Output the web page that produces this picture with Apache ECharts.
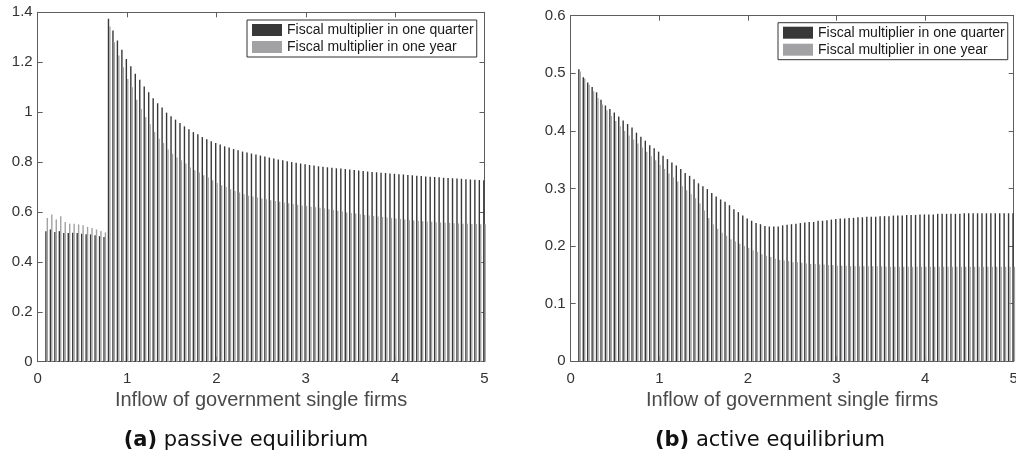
<!DOCTYPE html>
<html>
<head>
<meta charset="utf-8">
<script src="https://cdn.jsdelivr.net/npm/echarts@6/dist/echarts.min.js"></script>
<style>
  html, body { margin: 0; padding: 0; background: #fff; }
  #chart { width: 1016px; height: 456px; }
</style>
</head>
<body>
<div id="chart"></div>
<script>
// Inflow of government single firms (x positions of the bar groups)
const inflow = [
  0.1, 0.15, 0.2, 0.25, 0.3, 0.35, 0.4, 0.45, 0.5, 0.55,
  0.6, 0.65, 0.7, 0.75, 0.8, 0.85, 0.9, 0.95, 1, 1.05,
  1.1, 1.15, 1.2, 1.25, 1.3, 1.35, 1.4, 1.45, 1.5, 1.55,
  1.6, 1.65, 1.7, 1.75, 1.8, 1.85, 1.9, 1.95, 2, 2.05,
  2.1, 2.15, 2.2, 2.25, 2.3, 2.35, 2.4, 2.45, 2.5, 2.55,
  2.6, 2.65, 2.7, 2.75, 2.8, 2.85, 2.9, 2.95, 3, 3.05,
  3.1, 3.15, 3.2, 3.25, 3.3, 3.35, 3.4, 3.45, 3.5, 3.55,
  3.6, 3.65, 3.7, 3.75, 3.8, 3.85, 3.9, 3.95, 4, 4.05,
  4.1, 4.15, 4.2, 4.25, 4.3, 4.35, 4.4, 4.45, 4.5, 4.55,
  4.6, 4.65, 4.7, 4.75, 4.8, 4.85, 4.9, 4.95, 5
];

// (a) passive equilibrium
const passiveQuarter = [
  0.523, 0.530, 0.520, 0.523, 0.516, 0.516, 0.517, 0.516, 0.513, 0.511,
  0.510, 0.507, 0.503, 0.500, 1.374, 1.327, 1.287, 1.250, 1.213, 1.184,
  1.154, 1.130, 1.103, 1.080, 1.056, 1.036, 1.019, 0.998, 0.983, 0.970,
  0.956, 0.943, 0.931, 0.920, 0.911, 0.900, 0.891, 0.883, 0.876, 0.870,
  0.863, 0.858, 0.852, 0.847, 0.842, 0.838, 0.834, 0.830, 0.826, 0.822,
  0.818, 0.814, 0.810, 0.807, 0.803, 0.800, 0.797, 0.794, 0.791, 0.788,
  0.786, 0.783, 0.781, 0.779, 0.777, 0.775, 0.774, 0.772, 0.770, 0.768,
  0.766, 0.764, 0.762, 0.760, 0.759, 0.757, 0.756, 0.754, 0.753, 0.751,
  0.750, 0.748, 0.747, 0.745, 0.744, 0.742, 0.741, 0.740, 0.739, 0.737,
  0.736, 0.735, 0.734, 0.733, 0.731, 0.730, 0.729, 0.728, 0.727
];
const passiveYear = [
  0.576, 0.590, 0.570, 0.583, 0.560, 0.553, 0.553, 0.550, 0.547, 0.540,
  0.536, 0.530, 0.524, 0.518, 1.343, 1.280, 1.227, 1.180, 1.133, 1.100,
  1.050, 1.013, 0.980, 0.951, 0.920, 0.893, 0.876, 0.850, 0.833, 0.818,
  0.807, 0.794, 0.778, 0.767, 0.758, 0.747, 0.738, 0.727, 0.716, 0.707,
  0.700, 0.691, 0.684, 0.678, 0.671, 0.665, 0.662, 0.658, 0.654, 0.651,
  0.647, 0.644, 0.641, 0.638, 0.635, 0.632, 0.629, 0.626, 0.624, 0.621,
  0.619, 0.617, 0.614, 0.611, 0.608, 0.605, 0.602, 0.598, 0.596, 0.594,
  0.591, 0.588, 0.586, 0.584, 0.582, 0.580, 0.578, 0.576, 0.574, 0.572,
  0.570, 0.568, 0.566, 0.565, 0.563, 0.562, 0.561, 0.559, 0.558, 0.557,
  0.556, 0.555, 0.554, 0.553, 0.553, 0.552, 0.552, 0.551, 0.551
];

// (b) active equilibrium
const activeQuarter = [
  0.507, 0.493, 0.484, 0.476, 0.467, 0.454, 0.444, 0.438, 0.432, 0.425,
  0.418, 0.412, 0.406, 0.397, 0.390, 0.383, 0.375, 0.370, 0.364, 0.357,
  0.351, 0.345, 0.340, 0.334, 0.327, 0.322, 0.316, 0.309, 0.304, 0.299,
  0.292, 0.286, 0.281, 0.277, 0.271, 0.264, 0.259, 0.253, 0.248, 0.244,
  0.240, 0.238, 0.235, 0.234, 0.234, 0.234, 0.236, 0.237, 0.238, 0.239,
  0.240, 0.241, 0.242, 0.242, 0.244, 0.244, 0.245, 0.246, 0.247, 0.248,
  0.248, 0.249, 0.249, 0.250, 0.250, 0.251, 0.251, 0.251, 0.252, 0.252,
  0.252, 0.253, 0.253, 0.253, 0.254, 0.254, 0.254, 0.255, 0.255, 0.255,
  0.255, 0.256, 0.256, 0.256, 0.256, 0.256, 0.256, 0.257, 0.257, 0.257,
  0.257, 0.257, 0.257, 0.257, 0.257, 0.257, 0.257, 0.257, 0.257
];
const activeYear = [
  0.503, 0.491, 0.480, 0.469, 0.457, 0.446, 0.436, 0.426, 0.417, 0.408,
  0.400, 0.392, 0.385, 0.378, 0.371, 0.364, 0.356, 0.349, 0.341, 0.334,
  0.326, 0.319, 0.312, 0.304, 0.297, 0.290, 0.283, 0.274, 0.262, 0.249,
  0.238, 0.230, 0.223, 0.218, 0.212, 0.208, 0.204, 0.200, 0.197, 0.193,
  0.190, 0.186, 0.183, 0.181, 0.178, 0.176, 0.175, 0.174, 0.172, 0.172,
  0.171, 0.170, 0.169, 0.169, 0.168, 0.168, 0.167, 0.167, 0.166, 0.166,
  0.166, 0.165, 0.165, 0.165, 0.165, 0.165, 0.165, 0.165, 0.165, 0.164,
  0.164, 0.164, 0.164, 0.164, 0.164, 0.164, 0.164, 0.164, 0.164, 0.164,
  0.164, 0.164, 0.164, 0.164, 0.164, 0.164, 0.164, 0.164, 0.164, 0.164,
  0.164, 0.164, 0.164, 0.164, 0.164, 0.164, 0.164, 0.164, 0.164
];

const seriesNames = ['Fiscal multiplier in one quarter', 'Fiscal multiplier in one year'];
const xAxisTitle = 'Inflow of government single firms';
const captions = [['(a)', 'passive equilibrium'], ['(b)', 'active equilibrium']];

const FONT = '"Liberation Sans", Arial, Helvetica, sans-serif';
const CAPTION_FONT = '"DejaVu Sans", sans-serif';
const AXIS_COLOR = '#5e5e5e';
const QUARTER_COLOR = '#383838';
const YEAR_COLOR = '#a2a2a4';

const pairs = (ys) => inflow.map((x, i) => [x, ys[i]]);

function bottomAxis(gridIndex) {
  return {
    type: 'value', gridIndex, position: 'bottom', min: 0, max: 5, interval: 1,
    axisLine: { show: true, onZero: false, lineStyle: { color: AXIS_COLOR, width: 1 } },
    axisTick: { show: true, inside: true, length: 5, lineStyle: { color: AXIS_COLOR } },
    axisLabel: { margin: 10, fontSize: 15, color: '#333', fontFamily: FONT },
    splitLine: { show: false },
    name: xAxisTitle, nameLocation: 'middle', nameGap: 29, nameMoveOverlap: false,
    nameTextStyle: { fontSize: 20, color: '#4a4a4a', fontFamily: FONT }
  };
}
function topAxis(gridIndex) {
  return {
    type: 'value', gridIndex, position: 'top', min: 0, max: 5, interval: 1,
    axisLine: { show: true, onZero: false, lineStyle: { color: AXIS_COLOR, width: 1 } },
    axisTick: { show: true, inside: true, length: 5, lineStyle: { color: AXIS_COLOR } },
    axisLabel: { show: false }, splitLine: { show: false }
  };
}
function sideAxis(gridIndex, position, max, interval, labels) {
  return {
    type: 'value', gridIndex, position, min: 0, max, interval,
    axisLine: { show: true, onZero: false, lineStyle: { color: AXIS_COLOR, width: 1 } },
    axisTick: { show: true, inside: true, length: 5, lineStyle: { color: AXIS_COLOR } },
    axisLabel: { show: labels, margin: 5, fontSize: 15, color: '#333', fontFamily: FONT },
    splitLine: { show: false }
  };
}
function barSeries(name, color, xAxisIndex, yAxisIndex, ys) {
  return {
    type: 'bar', name, xAxisIndex, yAxisIndex,
    data: pairs(ys), barWidth: 1.4, barGap: '0%',
    itemStyle: { color }, animation: false, silent: true
  };
}
function legendAt(left, top) {
  return {
    orient: 'vertical', left, top, data: seriesNames, selectedMode: false,
    itemWidth: 30, itemHeight: 12, itemGap: 3, icon: 'rect',
    padding: [3, 3, 3, 5], borderColor: '#333', borderWidth: 1, backgroundColor: '#fff',
    textStyle: { fontSize: 14, lineHeight: 14, color: '#1a1a1a', fontFamily: FONT }
  };
}
function caption(cx, parts) {
  return {
    type: 'text', x: cx, y: 441,
    style: {
      text: '{b|' + parts[0] + '} {r|' + parts[1] + '}',
      align: 'center', verticalAlign: 'middle',
      rich: {
        b: { fontSize: 21, fontWeight: 'bold', fontFamily: CAPTION_FONT, fill: '#111' },
        r: { fontSize: 21, fontFamily: CAPTION_FONT, fill: '#111' }
      },
      fontSize: 21, fontFamily: CAPTION_FONT, fill: '#111'
    }
  };
}

const chart = echarts.init(document.getElementById('chart'), null, { renderer: 'canvas' });
chart.setOption({
  animation: false,
  backgroundColor: '#fff',
  grid: [
    { left: 37.7, top: 12.3, width: 446.8, height: 349.4, outerBoundsMode: 'none', containLabel: false },
    { left: 570.7, top: 15.7, width: 443, height: 345.6, outerBoundsMode: 'none', containLabel: false }
  ],
  xAxis: [bottomAxis(0), bottomAxis(1), topAxis(0), topAxis(1)],
  yAxis: [
    sideAxis(0, 'left', 1.4, 0.2, true),
    sideAxis(1, 'left', 0.6, 0.1, true),
    sideAxis(0, 'right', 1.4, 0.2, false),
    sideAxis(1, 'right', 0.6, 0.1, false)
  ],
  legend: [legendAt(247, 20), legendAt(778, 22.7)],
  series: [
    barSeries(seriesNames[0], QUARTER_COLOR, 0, 0, passiveQuarter),
    barSeries(seriesNames[1], YEAR_COLOR, 0, 0, passiveYear),
    barSeries(seriesNames[0], QUARTER_COLOR, 1, 1, activeQuarter),
    barSeries(seriesNames[1], YEAR_COLOR, 1, 1, activeYear)
  ],
  graphic: [caption(246, captions[0]), caption(770, captions[1])]
});
</script>
</body>
</html>
